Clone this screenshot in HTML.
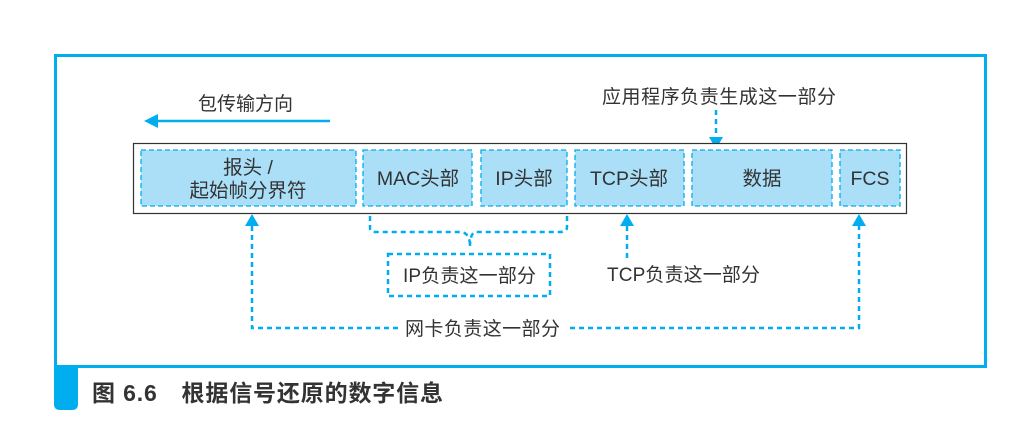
<!DOCTYPE html>
<html><head><meta charset="utf-8"><style>
html,body{margin:0;padding:0;background:#fff;}
svg text{font-family:"Liberation Sans","Noto Sans CJK SC",sans-serif;fill:#333;}
</style></head><body>
<svg width="1012" height="421" viewBox="0 0 1012 421" xmlns="http://www.w3.org/2000/svg">
<rect x="55.5" y="55.5" width="930" height="311" fill="none" stroke="#00aeef" stroke-width="3"/>
<path d="M54 366 H78 V404 Q78 410 72 410 H60 Q54 410 54 404 Z" fill="#00aeef"/>
<text x="92" y="401" font-size="23" font-weight="bold" fill="#222" textLength="351" lengthAdjust="spacing">图 6.6　根据信号还原的数字信息</text>

<line x1="156" y1="121" x2="330" y2="121" stroke="#00aeef" stroke-width="2.5"/>
<polygon points="144,121 158,114 158,128" fill="#00aeef"/>
<text x="198" y="110" font-size="19" textLength="95">包传输方向</text>

<text x="602" y="103" font-size="19" textLength="234">应用程序负责生成这一部分</text>
<line x1="716" y1="110" x2="716" y2="138" stroke="#00aeef" stroke-width="2.5" stroke-dasharray="5,4"/>
<polygon points="716,149 709,137 723,137" fill="#00aeef"/>

<rect x="133.5" y="143.5" width="773" height="70" fill="#fff" stroke="#333" stroke-width="1.2"/>
<g fill="#abdff8" stroke="#00aeef" stroke-width="1.3" stroke-dasharray="5,3">
<rect x="141" y="150" width="215" height="56"/>
<rect x="363" y="150" width="109" height="56"/>
<rect x="481" y="150" width="86" height="56"/>
<rect x="575" y="150" width="109" height="56"/>
<rect x="692" y="150" width="140" height="56"/>
<rect x="840" y="150" width="60" height="56"/>
</g>
<g font-size="19.5" text-anchor="middle">
<text x="248" y="174">报头 /</text>
<text x="248" y="197">起始帧分界符</text>
<text x="418" y="185">MAC头部</text>
<text x="524" y="185">IP头部</text>
<text x="629" y="185">TCP头部</text>
<text x="762" y="185">数据</text>
<text x="870" y="185">FCS</text>
</g>

<g fill="none" stroke="#00aeef" stroke-width="2.5" stroke-dasharray="5,4">
<path d="M370 216 V228 Q370 232 375 232 H462 Q470 234 470 246"/>
<path d="M567 216 V227 Q567 232 560 232 H475 Q470 234 470 246"/>
<rect x="388" y="254" width="162" height="42"/>
<path d="M252 226 V328 H400"/>
<path d="M570 328 H859 V226"/>
<path d="M627 226 V262"/>
</g>
<g fill="#00aeef">
<polygon points="252,214 245,226 259,226"/>
<polygon points="627,214 620,226 634,226"/>
<polygon points="859,214 852,226 866,226"/>
</g>
<g font-size="19">
<text x="403" y="282" textLength="133">IP负责这一部分</text>
<text x="607" y="281" textLength="153">TCP负责这一部分</text>
<text x="405" y="335" textLength="155">网卡负责这一部分</text>
</g>
</svg>
</body></html>
